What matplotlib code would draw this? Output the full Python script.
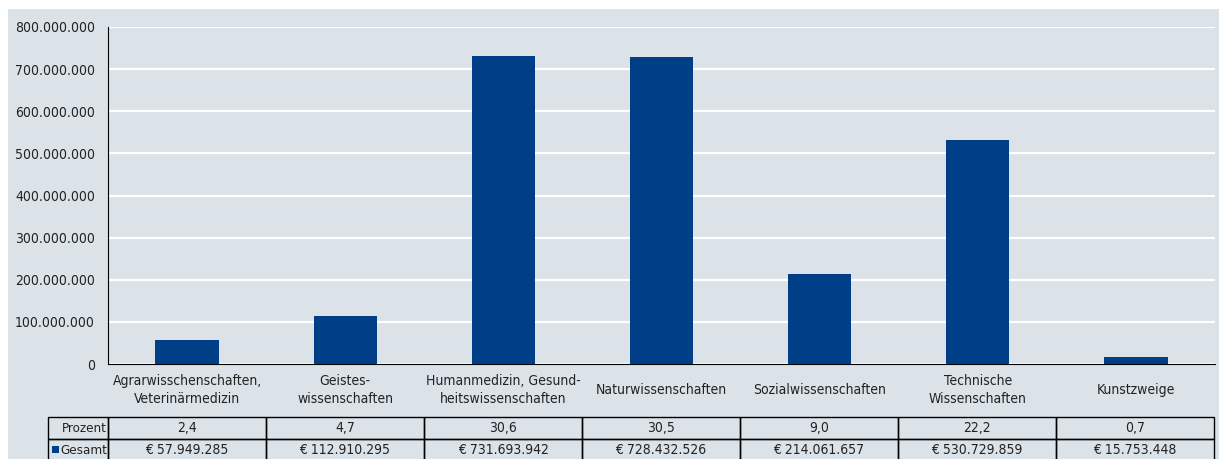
import matplotlib
matplotlib.use("Agg")
import matplotlib.pyplot as plt
from matplotlib.patches import Rectangle
from matplotlib.ticker import FuncFormatter

plt.rcParams['font.family'] = ['DejaVu Sans']
plt.rcParams['font.stretch'] = 'condensed'

kategorien = ["Agrarwisschenschaften,\nVeterinärmedizin", "Geistes-\nwissenschaften",
              "Humanmedizin, Gesund-\nheitswissenschaften", "Naturwissenschaften",
              "Sozialwissenschaften", "Technische\nWissenschaften", "Kunstzweige"]
gesamt = [57949285, 112910295, 731693942, 728432526, 214061657, 530729859, 15753448]
prozent = ["2,4", "4,7", "30,6", "30,5", "9,0", "22,2", "0,7"]
gesamt_txt = ["€ 57.949.285", "€ 112.910.295", "€ 731.693.942", "€ 728.432.526",
              "€ 214.061.657", "€ 530.729.859", "€ 15.753.448"]

W, H = 1219, 459
bg = '#dbe3e9'
blau = '#003f87'
txt = '#222222'
fs = 10

fig = plt.figure(figsize=(W/100, H/100), dpi=100, facecolor='white')
fig.patches.append(Rectangle((8/W, 0), 1, (H-9)/H, transform=fig.transFigure,
                             facecolor=bg, edgecolor='none', zorder=-10))

ax = fig.add_axes([108/W, 95/H, (1215-108)/W, 337/H])
ax.set_facecolor('none')
x = range(len(kategorien))
ax.bar(x, gesamt, width=0.4, color=blau, zorder=3)
ax.set_xlim(-0.5, len(kategorien) - 0.5)
ax.set_ylim(0, 800000000)
ax.set_yticks(range(0, 800000001, 100000000))
ax.yaxis.set_major_formatter(FuncFormatter(lambda v, p: f"{int(v):,}".replace(",", ".")))
ax.tick_params(axis='y', length=0, pad=9.5, labelsize=fs, colors=txt)
ax.set_xticks([])
for s in ['top', 'right']:
    ax.spines[s].set_visible(False)
ax.grid(axis='y', color='white', linewidth=1.6, zorder=0)
ax.set_axisbelow(True)

for i, k in enumerate(kategorien):
    ax.text(i, (69 - 95) / 337, k, transform=ax.get_xaxis_transform(),
            ha='center', va='center', fontsize=fs, color=txt, linespacing=1.3)

# Tabelle
zellen = [["Prozent"] + prozent, ["Gesamt"] + gesamt_txt]
breiten = [60] + [158] * len(kategorien)
summe = sum(breiten)
tab = ax.table(cellText=zellen, colWidths=[b / summe for b in breiten],
               bbox=[(48 - 108) / 1107, (-2 - 95) / 337, (1214 - 48) / 1107, 44 / 337],
               cellLoc='center')
tab.auto_set_font_size(False)
for (r, c), cell in tab.get_celld().items():
    cell.set_facecolor('none')
    cell.set_edgecolor('black')
    cell.set_linewidth(1)
    cell.get_text().set_fontsize(fs)
    cell.get_text().set_color(txt)
    if c == 0:
        cell.get_text().set_ha('right')
        cell.get_text().set_fontsize(9.5)
        cell.PAD = 0.02
tab.set_clip_on(False)

fig.patches.append(Rectangle((52/W, 6/H), 7/W, 7/H, transform=fig.transFigure,
                             facecolor=blau, edgecolor='none', zorder=5))

fig.savefig("out.png", dpi=100, facecolor='white')
